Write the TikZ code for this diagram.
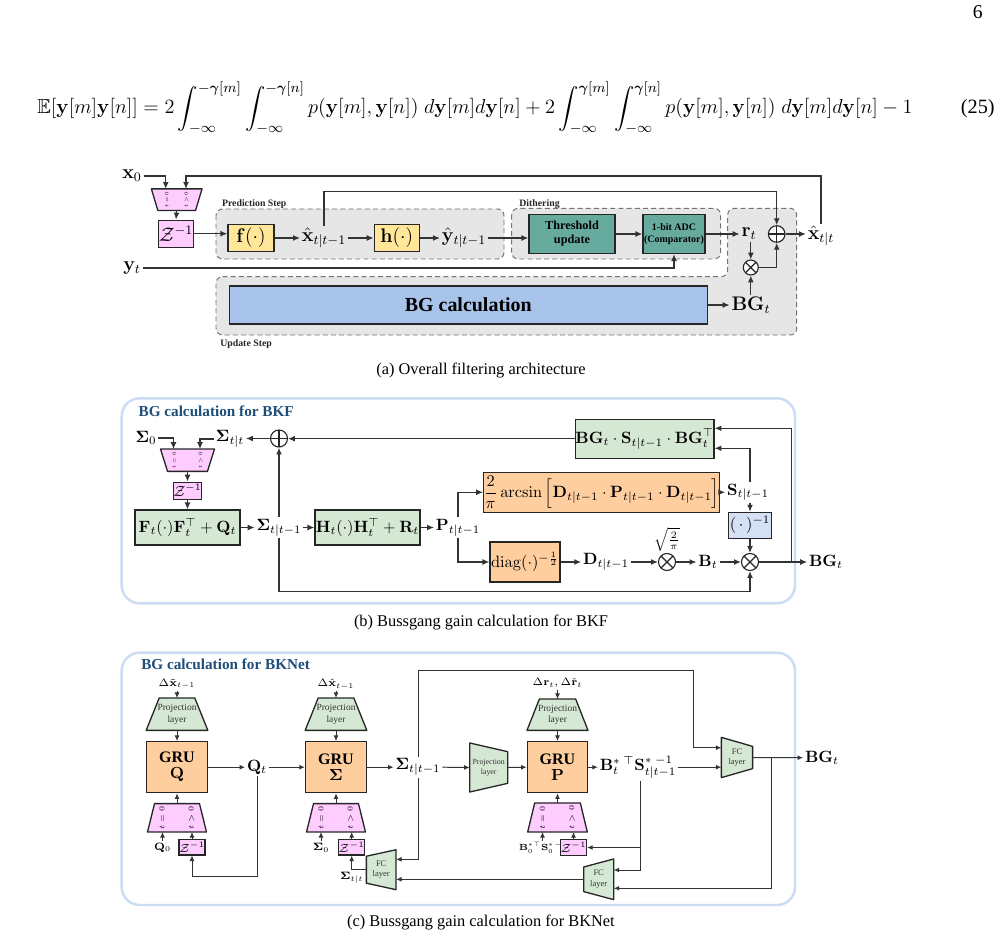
\documentclass[tikz,border=0pt]{standalone}
\usepackage{fix-cm}
\usepackage{amsmath,amssymb}
\usepackage{graphicx}
\usepackage[no-math]{fontspec}
\setmainfont{Liberation Serif}
\usetikzlibrary{arrows.meta,backgrounds,calc}

\newcommand{\pxu}{0.6114pt}
\newcommand{\muxlbl}[1]{\rotatebox{90}{$t=0$}\hspace{#1}\rotatebox{90}{$t>0$}}

\definecolor{predfill}{RGB}{255,230,153}
\definecolor{tealfill}{RGB}{103,171,159}
\definecolor{bgblue}{RGB}{169,196,235}
\definecolor{muxpink}{RGB}{255,204,255}
\definecolor{mgreen}{RGB}{213,232,212}
\definecolor{morange}{RGB}{255,206,159}
\definecolor{invblue}{RGB}{212,225,245}
\definecolor{framebl}{RGB}{204,220,243}
\definecolor{titlebl}{RGB}{31,78,121}
\definecolor{stepgray}{RGB}{230,230,230}

\begin{document}
\begin{tikzpicture}[x=\pxu, y=-\pxu,
    wire/.style={draw=black!80, line width=0.7pt},
    arr/.style={wire, -{Latex[length=4.2pt,width=3.6pt]}},
    arrc/.style={wire, line width=0.6pt, -{Latex[length=3.4pt,width=3pt]}},
    blk/.style={rectangle, draw=black!85, line width=0.8pt, inner sep=0pt, align=center},
    lblA/.style={inner sep=1pt, font=\fontsize{12}{14}\selectfont},
    lblB/.style={inner sep=1pt, font=\fontsize{10}{12}\selectfont},
    tinylbl/.style={inner sep=1pt, font=\fontsize{6.5}{7.5}\selectfont},
    steplbl/.style={anchor=base west, inner sep=0pt, font=\fontsize{6}{7}\selectfont\bfseries, text=black!85},
    titlelbl/.style={anchor=base west, inner sep=0pt, font=\fontsize{9.3}{11}\selectfont\bfseries, text=titlebl},
    caplbl/.style={anchor=base, inner sep=0pt, font=\fontsize{10}{12}\selectfont},
    stepbox/.style={draw=black!55, fill=stepgray, dash pattern=on 3pt off 2pt, line width=0.6pt, rounded corners=4pt},
    panelframe/.style={draw=framebl, line width=1.5pt, rounded corners=11pt},
    trap/.style={draw=black!85, line width=0.8pt, line join=round},
    muxbox/.style={inner sep=0pt, align=center},
    muxsmall/.style={muxbox, font=\fontsize{3.2}{4}\selectfont},
    muxbig/.style={muxbox, font=\fontsize{4.6}{5.5}\selectfont},
    projtxt/.style={muxbox, font=\fontsize{5.8}{7}\selectfont, text=black!80},
    fctxt/.style={muxbox, font=\fontsize{5.2}{6.5}\selectfont, text=black!80},
    grubox/.style={blk, fill=morange, minimum width=61*\pxu, minimum height=51*\pxu, font=\fontsize{9.8}{9.8}\selectfont\bfseries},
    zsmall/.style={blk, fill=muxpink, minimum width=24.3*\pxu, minimum height=15.7*\pxu, font=\fontsize{7.2}{8}\selectfont},
    sumc/.style={circle, draw=black!85, line width=0.7pt, fill=white, inner sep=0pt, minimum size=#1},
    oplus/.style={sumc=#1, path picture={\draw[black!85, line width=0.7pt] (path picture bounding box.north) -- (path picture bounding box.south) (path picture bounding box.west) -- (path picture bounding box.east);}},
    otimes/.style={sumc=#1, path picture={\draw[black!85, line width=0.7pt] (path picture bounding box.north west) -- (path picture bounding box.south east) (path picture bounding box.south west) -- (path picture bounding box.north east);}}
]
\useasboundingbox (0,0) rectangle (1001,941);

% page number and equation
\node[anchor=base east, inner sep=0pt, font=\fontsize{12}{14}\selectfont] (pagenum) at (983,19) {6};
\node[anchor=base, inner sep=0pt, font=\fontsize{12.4}{15}\selectfont] (eq) at (475,114) {$\displaystyle \mathbb{E}[\mathbf{y}[m]\mathbf{y}[n]] = 2\int_{-\infty}^{-\boldsymbol{\gamma}[m]}\int_{-\infty}^{-\boldsymbol{\gamma}[n]} p(\mathbf{y}[m],\mathbf{y}[n])\;d\mathbf{y}[m]d\mathbf{y}[n] + 2\int_{-\infty}^{\boldsymbol{\gamma}[m]}\int_{-\infty}^{\boldsymbol{\gamma}[n]} p(\mathbf{y}[m],\mathbf{y}[n])\;d\mathbf{y}[m]d\mathbf{y}[n] - 1$};
\node[anchor=base east, inner sep=0pt, font=\fontsize{12.4}{15}\selectfont] (eqnum) at (995,114) {(25)};

% ---------- (a) overall filtering architecture ----------
\node[lblA] (x0) at (132,176) {$\mathbf{x}_0$};
\node[lblA] (yt) at (132,268) {$\mathbf{y}_t$};
\node[muxsmall, minimum width=50*\pxu, minimum height=21*\pxu] (muxA) at (176.7,199.7) {\muxlbl{10pt}};
\node[blk, fill=muxpink, minimum width=33*\pxu, minimum height=27*\pxu, font=\fontsize{12}{14}\selectfont] (zA) at (176,233.7) {$\mathcal{Z}^{-1}$};
\node[blk, fill=predfill, minimum width=46*\pxu, minimum height=27*\pxu, font=\fontsize{12}{14}\selectfont] (fA) at (251,238) {$\mathbf{f}(\cdot)$};
\node[lblA] (xpred) at (324,238) {$\hat{\mathbf{x}}_{t|t-1}$};
\node[blk, fill=predfill, minimum width=45*\pxu, minimum height=27*\pxu, font=\fontsize{12}{14}\selectfont] (hA) at (396.7,238) {$\mathbf{h}(\cdot)$};
\node[lblA] (ypred) at (464,238) {$\hat{\mathbf{y}}_{t|t-1}$};
\node[blk, fill=tealfill, minimum width=86*\pxu, minimum height=39*\pxu, font=\fontsize{7.5}{8.5}\selectfont\bfseries] (thr) at (572,234) {Threshold\\update};
\node[blk, fill=tealfill, minimum width=62*\pxu, minimum height=39*\pxu, font=\fontsize{6.1}{7}\selectfont\bfseries] (adc) at (674,234) {1-bit ADC\\(Comparator)};
\node[lblA] (rt) at (749,234) {$\mathbf{r}_t$};
\node[oplus=16.6*\pxu] (addA) at (776.7,234) {};
\node[otimes=15*\pxu] (mulA) at (750.8,267.5) {};
\node[lblA] (xfilt) at (821,236) {$\hat{\mathbf{x}}_{t|t}$};
\node[blk, fill=bgblue, minimum width=478*\pxu, minimum height=38*\pxu, font=\fontsize{12.2}{14}\selectfont\bfseries] (bgA) at (468.3,305) {BG calculation};
\node[lblA] (bgtA) at (751,305) {$\mathbf{BG}_t$};
\node[steplbl] (predlbl) at (221.7,206.5) {Prediction Step};
\node[steplbl] (ditlbl) at (519,206.5) {Dithering};
\node[steplbl] (updlbl) at (220,346.5) {Update Step};

\draw[arr] (x0.east) -| ([xshift=-11*\pxu]muxA.north);
\draw[arr] (xfilt.north) -- (xfilt.north |- x0) -| ([xshift=9.3*\pxu]muxA.north);
\draw[arr] (muxA.south) -- (zA.north);
\draw[arr] (zA.east) -- (zA.east -| fA.west);
\draw[arr] (fA.east) -- (xpred.west);
\draw[arr] (xpred.east) -- (hA.west);
\draw[arr] (xpred.north) -- (xpred.north |- 0,191.7) -| (addA.north);
\draw[arr] (hA.east) -- (ypred.west);
\draw[arr] (ypred.east) -- (ypred.east -| thr.west);
\draw[arr] (thr.east) -- (adc.west);
\draw[arr] (yt.east) -| (adc.south);
\draw[arr] (adc.east) -- (rt.west);
\draw[arr] (rt.south -| mulA.north) -- (mulA.north);
\draw[arr] (bgtA.north -| mulA.south) -- (mulA.south);
\draw[arr] (mulA.east) -| (addA.south);
\draw[arr] (addA.east) -- (addA.east -| xfilt.west);
\draw[arr] (bgA.east) -- (bgtA.west);
\node[caplbl] (capA) at (481,374) {(a) Overall filtering architecture};

% ---------- (b) Bussgang gain for BKF ----------
\node[titlelbl] (titleB) at (138.3,416) {BG calculation for BKF};
\node[lblB] (sig0B) at (146,438) {$\mathbf{\Sigma}_0$};
\node[lblB] (sigttB) at (230,439) {$\mathbf{\Sigma}_{t|t}$};
\node[oplus=17*\pxu] (addB) at (279,438.5) {};
\node[muxsmall, minimum width=53.3*\pxu, minimum height=21.7*\pxu] (muxB) at (187.5,460.2) {\muxlbl{14pt}};
\node[blk, fill=muxpink, minimum width=28*\pxu, minimum height=17*\pxu, font=\fontsize{9}{10}\selectfont] (zB) at (187.5,490.7) {$\mathcal{Z}^{-1}$};
\node[blk, fill=mgreen, minimum width=105*\pxu, minimum height=35*\pxu, font=\fontsize{10}{12}\selectfont] (Fbox) at (187.5,527.5) {$\mathbf{F}_t(\cdot)\mathbf{F}_t^{\top}+\mathbf{Q}_t$};
\node[lblB] (sigpB) at (279,527.5) {$\mathbf{\Sigma}_{t|t-1}$};
\node[blk, fill=mgreen, minimum width=105*\pxu, minimum height=35*\pxu, font=\fontsize{10}{12}\selectfont] (Hbox) at (367.5,527.5) {$\mathbf{H}_t(\cdot)\mathbf{H}_t^{\top}+\mathbf{R}_t$};
\node[lblB] (ppB) at (458,527.5) {$\mathbf{P}_{t|t-1}$};
\node[blk, fill=morange, minimum width=223*\pxu, minimum height=40*\pxu, font=\fontsize{10}{12}\selectfont] (arcbox) at (601.7,492.3) {$\dfrac{2}{\pi}\arcsin\Big[\mathbf{D}_{t|t-1}\cdot\mathbf{P}_{t|t-1}\cdot\mathbf{D}_{t|t-1}\Big]$};
\node[blk, fill=morange, minimum width=70*\pxu, minimum height=40*\pxu, font=\fontsize{10}{12}\selectfont] (diagbox) at (525,562) {$\mathrm{diag}(\cdot)^{-\frac{1}{2}}$};
\node[lblB] (spB) at (748,492.3) {$\mathbf{S}_{t|t-1}$};
\node[blk, fill=invblue, minimum width=43.4*\pxu, minimum height=26*\pxu, font=\fontsize{10}{12}\selectfont] (invbox) at (750,525.3) {$(\,\cdot\,)^{-1}$};
\node[lblB] (dB) at (606,562) {$\mathbf{D}_{t|t-1}$};
\node[otimes=17*\pxu] (mulB1) at (667,562) {};
\node[inner sep=0.5pt, anchor=south, font=\fontsize{8}{9}\selectfont] (sqrtB) at (mulB1.north) {$\sqrt{\frac{2}{\pi}}$};
\node[lblB] (bB) at (708,562) {$\mathbf{B}_t$};
\node[otimes=17*\pxu] (mulB2) at (750,562) {};
\node[lblB] (bgtB) at (826,562) {$\mathbf{BG}_t$};
\node[blk, fill=mgreen, minimum width=137*\pxu, minimum height=39*\pxu, font=\fontsize{10}{12}\selectfont] (bgsbox) at (644.7,438.7) {$\mathbf{BG}_t\cdot\mathbf{S}_{t|t-1}\cdot\mathbf{BG}_t^{\top}$};

\draw[arr] (sig0B.east) -| ([xshift=-14*\pxu]muxB.north);
\draw[arr] (sigttB.west) -| ([xshift=12.5*\pxu]muxB.north);
\draw[arr] (addB.west) -- (addB.west -| sigttB.east);
\draw[arr] (bgsbox.west) -- (bgsbox.west -| addB.east);
\draw[arr] (muxB.south) -- (zB.north);
\draw[arr] (zB.south) -- (Fbox.north);
\draw[arr] (Fbox.east) -- (sigpB.west);
\draw[arr] (sigpB.east) -- (Hbox.west);
\draw[arr] (Hbox.east) -- (ppB.west);
\draw[arr] (sigpB.north) -- (addB.south);
\draw[arr] (sigpB.south) -- (sigpB.south |- 0,591.7) -| (mulB2.south);
\draw[arr] (ppB.north) |- (arcbox.west);
\draw[arr] (ppB.south) |- (diagbox.west);
\draw[arr] (arcbox.east) -- (spB.west);
\draw[arr] (invbox.north |- spB.north) |- ([yshift=-9.6*\pxu]bgsbox.east);
\draw[arr] (invbox.north |- spB.south) -- (invbox.north);
\draw[arr] (invbox.south) -- (mulB2.north);
\draw[arr] (diagbox.east) -- (dB.west);
\draw[arr] (dB.east) -- (mulB1.west);
\draw[arr] (mulB1.east) -- (bB.west);
\draw[arr] (bB.east) -- (mulB2.west);
\draw[arr] (mulB2.east) -- (bgtB.west);
\draw[arr] (mulB2.east) -- ++(32.7,0) |- ([yshift=10.4*\pxu]bgsbox.east);
\node[caplbl] (capB) at (481,626) {(b) Bussgang gain calculation for BKF};

% ---------- (c) Bussgang gain for BKNet ----------
\node[titlelbl] (titleC) at (141,669.5) {BG calculation for BKNet};
% GRU for Q
\node[tinylbl] (dxC1) at (177,684) {$\Delta\tilde{\mathbf{x}}_{t-1}$};
\node[projtxt, minimum width=61*\pxu, minimum height=31.7*\pxu] (projC1) at (177,714.2) {Projection\\layer};
\node[grubox] (gruQ) at (177,767.2) {GRU\\$\mathbf{Q}$};
\node[muxbig, minimum width=58.3*\pxu, minimum height=27.7*\pxu] (muxC1) at (177,817.8) {\muxlbl{15pt}};
\node[tinylbl] (q0C) at (162.5,847.5) {$\mathbf{Q}_0$};
\node[zsmall] (zC1) at (192,847) {$\mathcal{Z}^{-1}$};
\node[lblB] (qtC) at (257,767.2) {$\mathbf{Q}_t$};
% GRU for Sigma
\node[tinylbl] (dxC2) at (336,684) {$\Delta\hat{\mathbf{x}}_{t-1}$};
\node[projtxt, minimum width=61*\pxu, minimum height=31.7*\pxu] (projC2) at (336,714.2) {Projection\\layer};
\node[grubox] (gruS) at (336,767.2) {GRU\\$\mathbf{\Sigma}$};
\node[muxbig, minimum width=58.3*\pxu, minimum height=27.7*\pxu] (muxC2) at (336,817.8) {\muxlbl{15pt}};
\node[tinylbl] (s0C) at (321,847.5) {$\mathbf{\Sigma}_0$};
\node[zsmall] (zC2) at (351.7,847) {$\mathcal{Z}^{-1}$};
\node[fctxt, minimum width=29*\pxu, minimum height=39.3*\pxu] (fcC1) at (381.2,869.7) {FC\\layer};
\node[lblB] (spC) at (418,767.2) {$\mathbf{\Sigma}_{t|t-1}$};
\node[muxbox, minimum width=37.3*\pxu, minimum height=48.4*\pxu, font=\fontsize{4.8}{6}\selectfont, text=black!80] (projS) at (488.7,767.5) {Projection\\layer};
% GRU for P
\node[tinylbl] (drC) at (557.5,683) {$\Delta\mathbf{r}_t,\Delta\check{\mathbf{r}}_t$};
\node[projtxt, minimum width=60.4*\pxu, minimum height=30.7*\pxu] (projC3) at (557.5,714.7) {Projection\\layer};
\node[grubox, minimum width=60.4*\pxu] (gruP) at (557.5,767.2) {GRU\\$\mathbf{P}$};
\node[muxbig, minimum width=59*\pxu, minimum height=28.4*\pxu] (muxC3) at (557.5,817.5) {\muxlbl{15pt}};
\node[inner sep=0.5pt, font=\fontsize{5.4}{6}\selectfont] (b0C) at (542.5,848) {$\mathbf{B}_0^{*}{}^{\top}\mathbf{S}_0^{*\,-1}$};
\node[zsmall] (zC3) at (573.5,847.5) {$\mathcal{Z}^{-1}$};
\node[lblB] (bsC) at (638,767.2) {$\mathbf{B}_t^{*}\,{}^{\top}\mathbf{S}_{t|t-1}^{*\;-1}$};
\node[fctxt, minimum width=29.3*\pxu, minimum height=40*\pxu] (fcC2) at (598.7,879.3) {FC\\layer};
\node[fctxt, minimum width=30.6*\pxu, minimum height=39.6*\pxu] (fcC3) at (737,757.5) {FC\\layer};
\node[lblB] (bgtC) at (822,757.7) {$\mathbf{BG}_t$};

\draw[arrc] (dxC1.south) -- (projC1.north);
\draw[arrc] (projC1.south) -- (gruQ.north);
\draw[arrc] (muxC1.north) -- (gruQ.south);
\draw[arrc] (q0C.north) -- (q0C.north |- muxC1.south);
\draw[arrc] (zC1.north) -- (zC1.north |- muxC1.south);
\draw[arrc] (gruQ.east) -- (qtC.west);
\draw[arrc] (qtC.east) -- (gruS.west);
\draw[arrc] (qtC.south) -- (qtC.south |- 0,876) -| (zC1.south);
\draw[arrc] (dxC2.south) -- (projC2.north);
\draw[arrc] (projC2.south) -- (gruS.north);
\draw[arrc] (muxC2.north) -- (gruS.south);
\draw[arrc] (s0C.north) -- (s0C.north |- muxC2.south);
\draw[arrc] (zC2.north) -- (zC2.north |- muxC2.south);
\draw[arrc] (fcC1.west) -| node[pos=0.5, below, tinylbl] (sttC) {$\mathbf{\Sigma}_{t|t}$} (zC2.south);
\draw[arrc] (gruS.east) -- (spC.west);
\draw[arrc] (spC.east) -- (projS.west);
\draw[arrc] (projS.east) -- (gruP.west);
\draw[arrc] (spC.north) -- (spC.north |- 0,670.7) -| ([xshift=-27.7*\pxu, yshift=9.8*\pxu]fcC3.west) -- ([yshift=9.8*\pxu]fcC3.west);
\draw[arrc] (spC.south) |- ([yshift=10.4*\pxu]fcC1.east);
\draw[arrc] (drC.south) -- (projC3.north);
\draw[arrc] (projC3.south) -- (gruP.north);
\draw[arrc] (muxC3.north) -- (gruP.south);
\draw[arrc] (b0C.north) -- (b0C.north |- muxC3.south);
\draw[arrc] (zC3.north) -- (zC3.north |- muxC3.south);
\draw[arrc] (gruP.east) -- (bsC.west);
\draw[arrc] (bsC.east) -- (bsC.east -| fcC3.west);
\draw[arrc] ([xshift=2*\pxu]bsC.south) |- (zC3.east);
\draw[arrc] ([xshift=2*\pxu]bsC.south) |- ([yshift=9.3*\pxu]fcC2.east);
\draw[arrc] (fcC3.east) -- (bgtC.west);
\draw[arrc] (fcC3.east) -- ++(18.7,0) |- ([yshift=-9*\pxu]fcC2.east);
\draw[arrc] (fcC2.west) -- (fcC2.west -| fcC1.east);
\node[caplbl] (capC) at (481,926) {(c) Bussgang gain calculation for BKNet};

% ---------- backgrounds, frames and trapezoids ----------
\begin{scope}[on background layer]
  \fill[white] (0,0) rectangle (1001,941);
  \draw[stepbox] (216,209) rectangle (504,259);
  \draw[stepbox] (511.7,208.3) rectangle (720.7,259);
  \draw[stepbox] (216,276.7) -- (727.7,276.7) -- (727.7,208.3) -- (796.7,208.3) -- (796.7,335) -- (216,335) -- cycle;
  \draw[panelframe] (121.7,398.3) rectangle (795,603.3);
  \draw[panelframe] (121.7,652.7) rectangle (795,905);
  % narrow side at the bottom
  \foreach \n/\w in {muxA/6.5, muxB/7}
    \draw[trap, fill=muxpink] (\n.north west) -- (\n.north east) -- ([xshift=-\w*\pxu]\n.south east) -- ([xshift=\w*\pxu]\n.south west) -- cycle;
  % narrow side at the top
  \foreach \n/\w/\col in {muxC1/7/muxpink, muxC2/7/muxpink, muxC3/7/muxpink, projC1/13/mgreen, projC2/13/mgreen, projC3/12.4/mgreen}
    \draw[trap, fill=\col] ([xshift=\w*\pxu]\n.north west) -- ([xshift=-\w*\pxu]\n.north east) -- (\n.south east) -- (\n.south west) -- cycle;
  % narrow side on the right
  \foreach \n/\w in {projS/8.7, fcC3/9}
    \draw[trap, fill=mgreen] (\n.north west) -- ([yshift=-\w*\pxu]\n.north east) -- ([yshift=\w*\pxu]\n.south east) -- (\n.south west) -- cycle;
  % narrow side on the left
  \foreach \n/\w in {fcC1/6.5, fcC2/8}
    \draw[trap, fill=mgreen] ([yshift=-\w*\pxu]\n.north west) -- (\n.north east) -- (\n.south east) -- ([yshift=\w*\pxu]\n.south west) -- cycle;
\end{scope}
\end{tikzpicture}
\end{document}
